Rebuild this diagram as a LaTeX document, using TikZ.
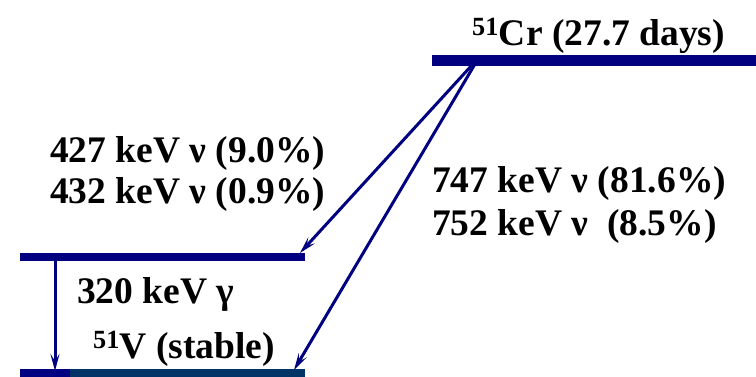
\documentclass[tikz,border=0pt]{standalone}
\usepackage{fontspec}
\setmainfont{Liberation Serif}[BoldFont={Liberation Serif Bold}]
\usetikzlibrary{arrows.meta}
\definecolor{lvl}{RGB}{0,0,128}
\definecolor{lvldark}{RGB}{0,51,102}
\begin{document}
\begin{tikzpicture}[x=1pt,y=-1pt,
  level/.style={line width=#1, draw=lvl},
  decay/.style={draw=lvl, line width=3pt, -{Stealth[length=17pt,width=9pt,inset=7pt]}},
  lbl/.style={anchor=base west, inner sep=0pt, font=\fontsize{37.5}{40}\selectfont\bfseries}]
\useasboundingbox (0,0) rectangle (756,376);
% levels
\draw[level=11pt] (432,60) -- (756,60);
\draw[level=8pt] (20,257) -- (305,257);
\draw[level=8pt] (20,373) -- (70,373);
\draw[line width=8pt, draw=lvldark] (70,373) -- (305,373);
% coordinates
\coordinate (cr1) at (473,64);
\coordinate (cr2) at (475,64);
\coordinate (mid) at (300,253);
\coordinate (gs) at (294,370);
\coordinate (gtop) at (55,258);
\coordinate (gbot) at (55,371);
% transitions
\draw[decay] (cr1) -- (mid);
\draw[decay] (cr2) -- (gs);
\draw[decay] (gtop) -- (gbot);
% labels
\node[lbl] (crlab) at (472,45) {\textsuperscript{\textbf{51}}Cr (27.7 days)};
\node[lbl] (l427) at (50,162) {427 keV ν (9.0\%)};
\node[lbl] (l432) at (50,203) {432 keV ν (0.9\%)};
\node[lbl] (l747) at (432,192) {747 keV ν (81.6\%)};
\node[lbl] (l752) at (432,235) {752 keV ν \ (8.5\%)};
\node[lbl] (l320) at (77,303) {320 keV γ};
\node[lbl] (vlab) at (93,358) {\textsuperscript{\textbf{51}}V (stable)};
\end{tikzpicture}
\end{document}
